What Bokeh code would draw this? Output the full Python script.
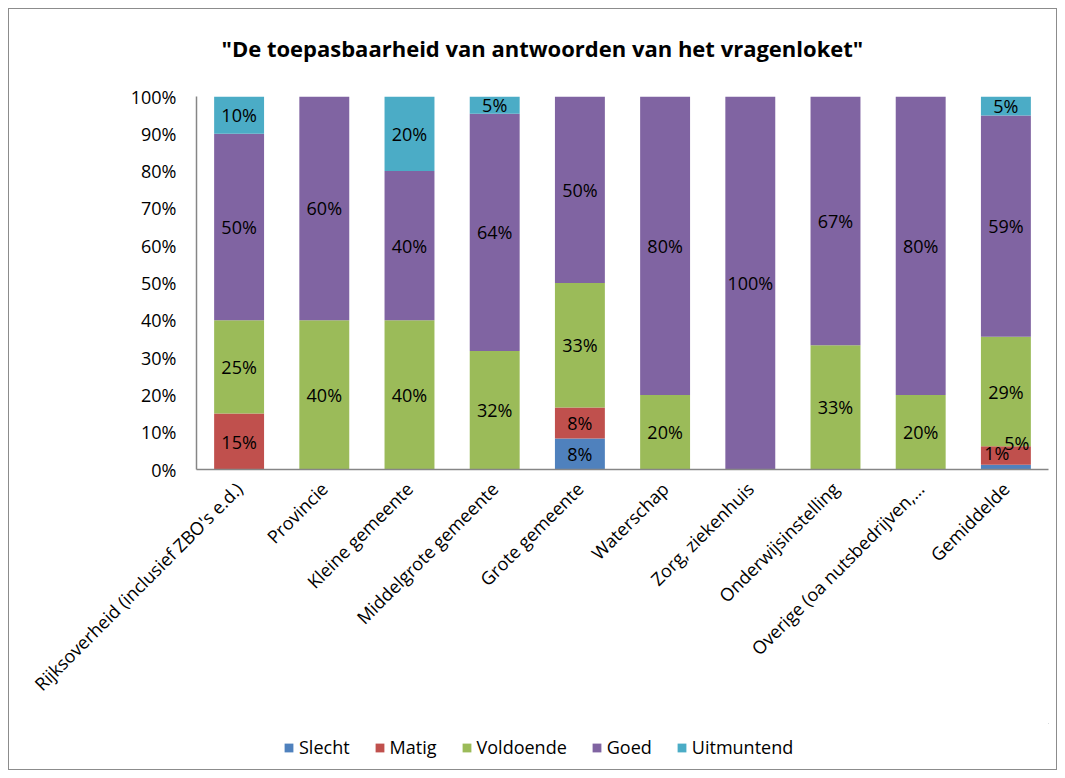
from bokeh.plotting import figure
from bokeh.layouts import column
from bokeh.models import (ColumnDataSource, FactorRange, FixedTicker, PrintfTickFormatter,
                          Legend, LegendItem, Range1d, Label)
from bokeh.embed import file_html
from bokeh.resources import INLINE
from bokeh.core.properties import value
from math import pi

categories = ["Rijksoverheid (inclusief ZBO's e.d.)", "Provincie", "Kleine gemeente",
              "Middelgrote gemeente", "Grote gemeente", "Waterschap", "Zorg, ziekenhuis",
              "Onderwijsinstelling", "Overige (oa nutsbedrijven,\u2026", "Gemiddelde"]
series = ["Slecht", "Matig", "Voldoende", "Goed", "Uitmuntend"]
slecht = [0, 0, 0, 0, 8.3, 0, 0, 0, 0, 1.3]
matig = [15, 0, 0, 0, 8.3, 0, 0, 0, 0, 4.9]
voldoende = [25, 40, 40, 31.8, 33.4, 20, 0, 33.3, 20, 29.4]
goed = [50, 60, 40, 63.6, 50, 80, 100, 66.7, 80, 59.3]
uitmuntend = [10, 0, 20, 4.6, 0, 0, 0, 0, 0, 5.1]
y_ticks = [0, 10, 20, 30, 40, 50, 60, 70, 80, 90, 100]
title_text = '"De toepasbaarheid van antwoorden van het vragenloket"'

colors = ["#4F81BD", "#C0504D", "#9BBB59", "#8064A2", "#4BACC6"]
FONT = "Open Sans"
W = 1047
FRAME_W = 852
TITLE_H = 67

# ---- title strip ----
tfig = figure(width=W, height=TITLE_H, output_backend="svg", toolbar_location=None,
              x_range=Range1d(0, FRAME_W), y_range=Range1d(0, TITLE_H),
              min_border_left=0, min_border_right=0, min_border_top=0, min_border_bottom=0)
tfig.axis.visible = False
tfig.grid.visible = False
tfig.outline_line_color = None
tfig.add_layout(Label(x=25, y=29, text=title_text, text_font=FONT, text_font_size="22px",
                      text_font_style="bold", text_color="#000000",
                      text_align="left", text_baseline="middle"))

# ---- main chart ----
data = {"cat": categories, "Slecht": slecht, "Matig": matig, "Voldoende": voldoende,
        "Goed": goed, "Uitmuntend": uitmuntend}
source = ColumnDataSource(data)

p = figure(x_range=FactorRange(factors=categories), y_range=Range1d(0, 100),
           width=W, height=647, output_backend="svg", toolbar_location=None,
           min_border_left=187, min_border_right=8, min_border_top=20, min_border_bottom=254)

renderers = p.vbar_stack(series, x="cat", width=0.586, color=colors, line_color=None, source=source)

# data labels (segment centres), with small nudges for crowded labels
nudges = {("Gemiddelde", "Slecht"): (-9, -14), ("Gemiddelde", "Matig"): (11, -13)}
lx, ly, lt, dx, dy = [], [], [], [], []
for i, c in enumerate(categories):
    base = 0.0
    for s in series:
        v = data[s][i]
        if v > 0:
            lx.append(c)
            ly.append(base + v / 2)
            lt.append(f"{round(v)}%")
            ox, oy = nudges.get((c, s), (0, 0))
            dx.append(ox)
            dy.append(oy)
        base += v
lsrc = ColumnDataSource(dict(x=lx, y=ly, t=lt, dx=dx, dy=dy))
p.text(x="x", y="y", text="t", x_offset="dx", y_offset="dy", source=lsrc,
       text_align="center", text_baseline="middle", text_font=value(FONT),
       text_font_size="18px", text_color="#000000")

p.xgrid.grid_line_color = None
p.ygrid.grid_line_color = None
p.outline_line_color = None

p.yaxis.ticker = FixedTicker(ticks=y_ticks)
p.yaxis.formatter = PrintfTickFormatter(format="%d%%")
p.yaxis.major_tick_line_color = None
p.yaxis.minor_tick_line_color = None
p.yaxis.major_tick_out = 0
p.yaxis.major_label_standoff = 20
p.yaxis.axis_line_color = "#868686"
p.yaxis.axis_line_width = 1.5
p.yaxis.major_label_text_font = FONT
p.yaxis.major_label_text_font_size = "18px"
p.yaxis.major_label_text_color = "#000000"

p.xaxis.major_tick_line_color = None
p.xaxis.minor_tick_line_color = None
p.xaxis.major_tick_out = 0
p.xaxis.major_label_standoff = 16
p.xaxis.axis_line_color = "#868686"
p.xaxis.axis_line_width = 1.5
p.xaxis.major_label_orientation = pi / 4
p.xaxis.major_label_text_font = FONT
p.xaxis.major_label_text_font_size = "18px"
p.xaxis.major_label_text_color = "#000000"

# ---- legend strip ----
leg = figure(width=W, height=46, output_backend="svg", toolbar_location=None,
             x_range=Range1d(0, 1), y_range=Range1d(0, 1),
             min_border_left=0, min_border_right=0, min_border_top=0, min_border_bottom=0)
leg.axis.visible = False
leg.grid.visible = False
leg.outline_line_color = None
leg_renderers = [leg.vbar(x=[5], top=[5], bottom=[4], width=0.1, color=c, line_color=None)
                 for c in colors]
items = [LegendItem(label=s, renderers=[r]) for s, r in zip(series, leg_renderers)]
legend = Legend(items=items, orientation="horizontal", location=(87, 10),
                glyph_width=11, glyph_height=11, label_standoff=5, spacing=24,
                padding=0, margin=0, border_line_color=None, background_fill_alpha=0,
                label_text_font=FONT, label_text_font_size="18px", label_height=20,
                label_text_color="#000000")
leg.add_layout(legend)

layout = column(tfig, p, leg, spacing=0, margin=(8, 8, 8, 8),
                styles={"border": "1px solid #8c8c8c"})

open("out.html", "w").write(file_html(layout, INLINE))
